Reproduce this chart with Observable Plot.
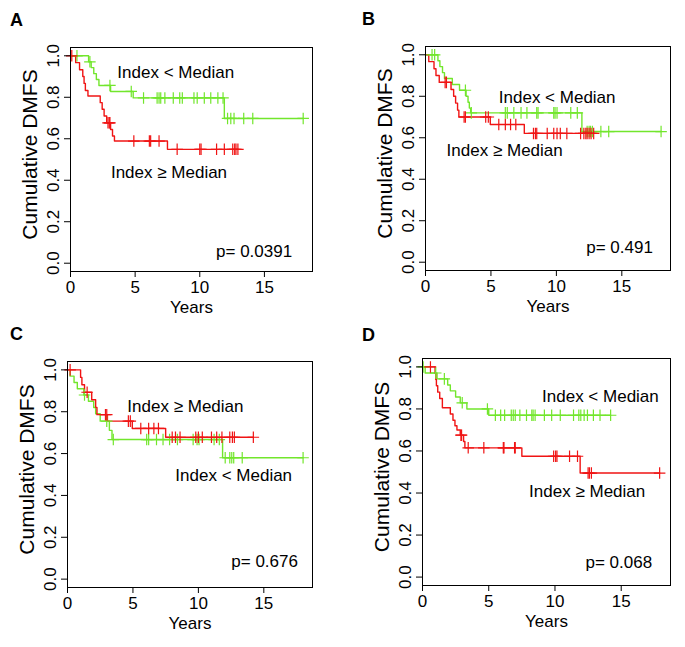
<!DOCTYPE html>
<html>
<head>
<meta charset="utf-8">
<script src="https://cdn.jsdelivr.net/npm/d3@7"></script>
<script src="https://cdn.jsdelivr.net/npm/@observablehq/plot@0.6"></script>
<style>
  html, body { margin: 0; padding: 0; background: white; }
  #wrap { position: relative; width: 685px; height: 647px; background: white; overflow: hidden; }
  .panel { position: absolute; }
</style>
</head>
<body>
<div id="wrap"></div>
<script>
// ---------- data ----------
const xTicks = [0, 5, 10, 15];
const yTicks = [0, 0.2, 0.4, 0.6, 0.8, 1.0];
const panelLetters = ["A", "B", "C", "D"];
const xLabel = "Years";
const yLabel = "Cumulative DMFS";
const groupNames = ["Index < Median", "Index \u2265 Median"];

// Panel A
const A_low_events = [[1.4,0.971],[1.6,0.943],[1.8,0.914],[2.0,0.886],[2.2,0.857],[3.1,0.828],[4.85,0.797],[11.9,0.698]];
const A_low_censor = [0.5,1.5,3.05,4.7,5.65,6.7,6.85,6.98,7.3,7.95,8.45,8.65,9.55,9.8,10.35,10.85,11.4,11.8,12.15,12.4,12.65,13.4,14.1,18.0];
const A_high_events = [[0.4,0.967],[0.7,0.933],[0.95,0.9],[1.05,0.867],[1.15,0.833],[1.35,0.806],[2.3,0.774],[2.45,0.742],[2.6,0.71],[2.8,0.677],[3.1,0.645],[3.25,0.613],[3.4,0.589],[7.5,0.549]];
const A_high_censor = [0.1,2.9,3.0,3.05,4.9,6.1,6.2,6.85,8.25,10.0,10.1,11.3,11.9,12.55,12.7,12.8,12.95];
const A_p = "p= 0.0391";

// Panel B
const B_low_events = [[0.95,0.971],[1.1,0.943],[1.3,0.914],[1.45,0.886],[2.05,0.857],[2.6,0.829],[3.1,0.8],[3.25,0.771],[3.35,0.743],[3.45,0.72],[11.95,0.63]];
const B_low_censor = [0.5,0.7,3.05,3.5,6.1,6.25,6.75,7.3,7.75,8.5,8.6,9.8,9.9,10.05,11.1,11.6,12.35,12.5,12.6,12.75,13.4,14.0,18.0];
const B_high_events = [[0.25,0.967],[0.65,0.933],[0.8,0.9],[1.05,0.867],[1.95,0.833],[2.15,0.8],[2.3,0.767],[2.45,0.733],[2.55,0.7],[4.95,0.664],[7.55,0.621]];
const B_high_censor = [1.5,1.6,2.95,3.05,4.6,4.8,5.6,6.1,6.5,6.9,8.25,8.4,8.5,9.3,9.8,10.05,10.3,10.8,11.85,12.1,12.25,12.35,12.5,12.65,12.85];
const B_p = "p= 0.491";

// Panel C
const C_low_events = [[0.2,0.97],[0.5,0.94],[0.75,0.91],[1.25,0.88],[1.6,0.85],[2.0,0.82],[2.15,0.79],[2.5,0.755],[3.2,0.711],[3.4,0.667],[11.85,0.58]];
const C_low_censor = [1.3,3.0,3.5,6.05,6.2,6.8,7.3,7.8,8.4,9.6,9.9,10.05,11.2,11.6,12.05,12.4,12.55,12.7,13.35,18.0];
const C_high_events = [[1.0,0.964],[1.1,0.929],[1.3,0.893],[1.85,0.857],[2.15,0.821],[2.25,0.786],[3.05,0.755],[4.95,0.72],[7.5,0.678]];
const C_high_censor = [0.2,1.5,2.9,3.0,4.65,4.8,5.6,6.2,6.6,6.95,8.0,8.25,8.6,9.8,10.0,10.3,11.0,11.4,11.8,12.4,12.6,12.75,14.2];
const C_p = "p= 0.676";

// Panel D
const D_low_events = [[0.2,0.971],[1.1,0.943],[1.9,0.914],[2.1,0.886],[2.5,0.857],[2.85,0.829],[3.35,0.80],[5.0,0.77]];
const D_low_censor = [0.05,1.0,1.65,3.0,4.9,5.5,5.9,6.2,6.7,6.85,7.0,7.35,7.85,8.25,8.35,8.5,9.2,9.75,10.4,11.4,11.8,11.95,12.2,12.45,12.9,13.4,14.2];
const D_high_events = [[0.95,0.97],[1.0,0.94],[1.05,0.91],[1.15,0.88],[1.3,0.85],[1.5,0.806],[2.1,0.776],[2.3,0.746],[2.45,0.72],[2.6,0.7],[2.85,0.675],[3.1,0.645],[3.2,0.615],[7.5,0.575],[11.9,0.495]];
const D_high_censor = [0.6,2.9,2.95,3.45,4.63,6.1,6.15,6.95,7.0,9.9,10.05,10.15,11.1,11.7,12.5,12.6,12.75,17.9];
const D_p = "p= 0.068";

// label anchor positions in data units [text, x (years), y (survival)]
const A_labels = [[groupNames[0], 8.14, 0.919], [groupNames[1], 7.62, 0.436], [A_p, 14.2, 0.055]];
const B_labels = [[groupNames[0], 10.06, 0.792], [groupNames[1], 6.05, 0.536], [B_p, 14.83, 0.072]];
const C_labels = [[groupNames[1], 9.01, 0.827], [groupNames[0], 12.7, 0.495], [C_p, 15.06, 0.082]];
const D_labels = [[groupNames[0], 13.43, 0.857], [groupNames[1], 12.43, 0.405], [D_p, 14.82, 0.071]];

// ---------- styles / layout ----------
const GREEN = "#72e62c";
const RED = "#f01414";
const FONT = "'Liberation Sans', Arial, Helvetica, sans-serif";

const layout = [
  {left: 0,   top: 0,   width: 340, height: 320, mL: 70, mR: 28, mT: 47, mB: 49, ldx: -54, ldy: -27},
  {left: 340, top: 0,   width: 345, height: 320, mL: 85, mR: 15, mT: 46, mB: 50, ldx: -57, ldy: -27},
  {left: 0,   top: 320, width: 340, height: 327, mL: 67, mR: 28, mT: 41, mB: 60, ldx: -51, ldy: -27},
  {left: 340, top: 320, width: 345, height: 327, mL: 82, mR: 15, mT: 38, mB: 62, ldx: -54, ldy: -23}
];

const panels = [
  {low: [A_low_events, A_low_censor], high: [A_high_events, A_high_censor], labels: A_labels},
  {low: [B_low_events, B_low_censor], high: [B_high_events, B_high_censor], labels: B_labels},
  {low: [C_low_events, C_low_censor], high: [C_high_events, C_high_censor], labels: C_labels},
  {low: [D_low_events, D_low_censor], high: [D_high_events, D_high_censor], labels: D_labels}
];

function stepLine(events, censor) {
  const pts = [{t: 0, s: 1}, ...events.map(([t, s]) => ({t, s}))];
  const lastS = pts[pts.length - 1].s;
  const endT = Math.max(d3.max(censor), pts[pts.length - 1].t);
  pts.push({t: endT, s: lastS});
  return pts;
}
function survAt(events, t) {
  let s = 1;
  for (const [et, es] of events) if (et <= t) s = es;
  return s;
}
function censorPts(events, censor) {
  return censor.map(t => ({t, s: survAt(events, t)}));
}

const wrap = document.getElementById("wrap");
panels.forEach((p, i) => {
  const L = layout[i];
  const groups = [
    {ev: p.low[0], ce: p.low[1], color: GREEN},
    {ev: p.high[0], ce: p.high[1], color: RED}
  ];
  const marks = [];
  groups.forEach(g => {
    marks.push(Plot.line(stepLine(g.ev, g.ce), {x: "t", y: "s", curve: "step-after", stroke: g.color, strokeWidth: 1.4}));
  });
  groups.forEach(g => {
    marks.push(Plot.dot(censorPts(g.ev, g.ce), {x: "t", y: "s", symbol: "plus", r: 3.8, stroke: g.color, strokeWidth: 1.2}));
  });
  marks.push(Plot.frame({stroke: "black", strokeWidth: 1}));
  marks.push(Plot.axisX(xTicks, {tickSize: 6, fontSize: 17, label: null, tickPadding: 3}));
  marks.push(Plot.axisY(yTicks, {tickSize: 6, fontSize: 17, label: null, tickRotate: -90, tickPadding: 6, tickFormat: d3.format(".1f")}));
  marks.push(Plot.text([xLabel], {text: d => d, frameAnchor: "bottom", dy: 36, fontSize: 17, fill: "black", textAnchor: "middle", lineAnchor: "middle"}));
  marks.push(Plot.text([yLabel], {text: d => d, frameAnchor: "left", dx: -40, dy: -5, rotate: -90, fontSize: 21, fill: "black", textAnchor: "middle", lineAnchor: "middle"}));
  marks.push(Plot.text(p.labels, {x: d => d[1], y: d => d[2], text: d => d[0], fontSize: 17, fill: "black", textAnchor: "middle", lineAnchor: "middle"}));
  marks.push(Plot.text([panelLetters[i]], {text: d => d, frameAnchor: "top-left", dx: L.ldx, dy: L.ldy, fontSize: 18, fontWeight: "bold", fill: "black", textAnchor: "middle", lineAnchor: "middle"}));

  const chart = Plot.plot({
    width: L.width,
    height: L.height,
    marginLeft: L.mL, marginRight: L.mR, marginTop: L.mT, marginBottom: L.mB,
    x: {domain: [0, 18.72], axis: null},
    y: {domain: [-0.04, 1.04], axis: null},
    style: {fontFamily: FONT, background: "white", color: "black", overflow: "visible"},
    marks
  });
  const div = document.createElement("div");
  div.className = "panel";
  div.style.left = L.left + "px";
  div.style.top = L.top + "px";
  div.appendChild(chart);
  wrap.appendChild(div);
});
</script>
</body>
</html>
